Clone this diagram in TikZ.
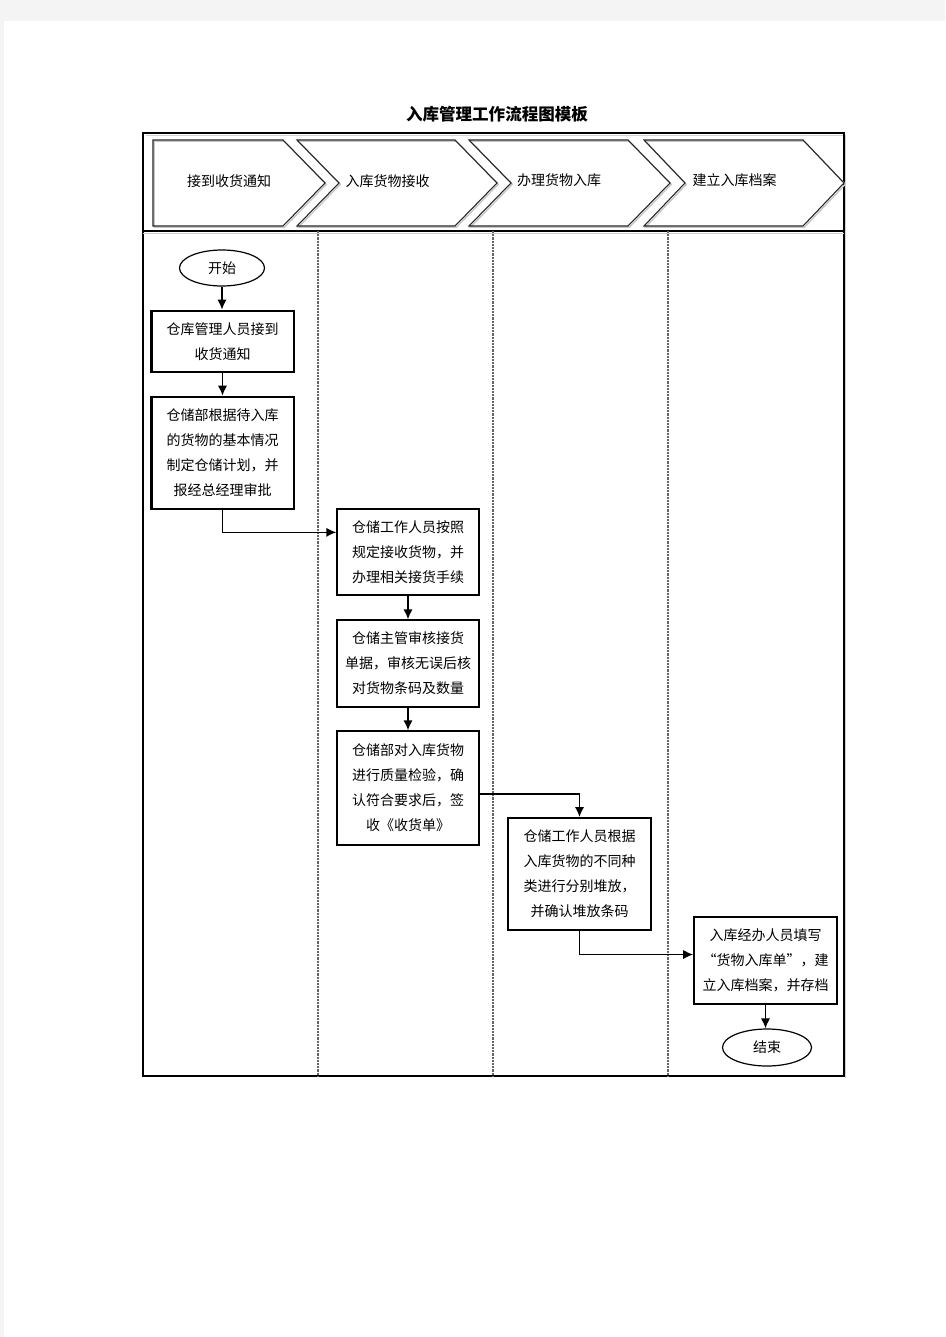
\documentclass[tikz,border=0pt]{standalone}
\usepackage{fontspec}
\newfontfamily\cjk{Noto Sans CJK SC}
\usetikzlibrary{arrows.meta,shapes.geometric,calc}
\definecolor{pagegrey}{HTML}{F4F4F4}
\tikzset{
  txt/.style={font=\cjk\fontsize{10.5pt}{18.75pt}\selectfont, align=center, inner sep=0pt},
  boxthick/.style={draw=black, line width=2pt, fill=white, minimum width=107pt, txt},
  boxthin/.style={draw=black, line width=1pt, fill=white, minimum width=106.5pt, txt},
  boxmid/.style={draw=black, line width=1.5pt, fill=white, minimum width=107pt, txt},
  term/.style={draw=black, line width=0.9pt, ellipse, fill=white, inner sep=0pt, txt},
  arr/.style={line width=1.2pt, -{Latex[length=7.5pt,width=7pt]}},
  chev/.style={draw=black!85, line width=0.8pt, line join=miter},
  chevshadow/.style={draw=gray!45, line width=1pt},
  lane/.style={draw=gray!80!black, line width=0.8pt, dash pattern=on 1.6pt off 0.8pt},
}
\begin{document}
\begin{tikzpicture}[x=0.75pt,y=-0.75pt]
\useasboundingbox (0,0) rectangle (945,1337);
\fill[white] (0,0) rectangle (945,1337);
\fill[pagegrey] (0,0) rectangle (945,21);
\fill[pagegrey] (0,0) rectangle (4,1337);

% title
\node[font=\cjk\bfseries\fontsize{12.4pt}{14pt}\selectfont, inner sep=0pt] (title) at (497,114) {入库管理工作流程图模板};

% frame
\draw[gray!35, line width=0.7pt] (145.5,135) -- (845.5,135) -- (845.5,1077.5);
\draw[black, line width=0.8pt] (143,133) rectangle (844,1076);
\draw[gray!40, line width=0.7pt] (143,233) -- (844,233);
\draw[black, line width=0.8pt] (143,231) -- (844,231);

% lanes
\foreach \xx in {318,493,668} \draw[lane] (\xx,231) -- (\xx,1076);

% chevrons (shadow then outline)
\begin{scope}[shift={(1.3,1.3)}]
\draw[chevshadow] (153,140) -- (283,140) -- (325,183) -- (283,226) -- (153,226) -- cycle;
\draw[chevshadow] (297,140) -- (455,140) -- (497,183) -- (455,226) -- (297,226) -- (339,183) -- cycle;
\draw[chevshadow] (469,140) -- (628,140) -- (670,183) -- (628,226) -- (469,226) -- (511,183) -- cycle;
\draw[chevshadow] (644,140) -- (803,140) -- (844,183) -- (803,226) -- (644,226) -- (685,183) -- cycle;
\end{scope}
\draw[chev] (153,140) -- (283,140) -- (325,183) -- (283,226) -- (153,226) -- cycle;
\draw[chev] (297,140) -- (455,140) -- (497,183) -- (455,226) -- (297,226) -- (339,183) -- cycle;
\draw[chev] (469,140) -- (628,140) -- (670,183) -- (628,226) -- (469,226) -- (511,183) -- cycle;
\draw[chev] (644,140) -- (803,140) -- (844,183) -- (803,226) -- (644,226) -- (685,183) -- cycle;

\node[txt] (h1) at (229,181) {接到收货通知};
\node[txt] (h2) at (387.5,181) {入库货物接收};
\node[txt] (h3) at (559,180) {办理货物入库};
\node[txt] (h4) at (734.5,180) {建立入库档案};

% flow nodes
\node[term, minimum width=63.75pt, minimum height=27pt] (start) at (222,268) {开始};
\node[boxthick, minimum height=45.75pt] (A) at (222.5,341.5) {仓库管理人员接到\\收货通知};
\node[boxthick, minimum height=84pt] (B) at (222.5,453) {仓储部根据待入库\\的货物的基本情况\\制定仓储计划，并\\报经总经理审批};
\node[boxthin, minimum height=64.5pt] (C) at (408,552) {仓储工作人员按照\\规定接收货物，并\\办理相关接货手续};
\node[boxthin, minimum height=65.25pt] (D) at (408,663.5) {仓储主管审核接货\\单据，审核无误后核\\对货物条码及数量};
\node[boxthin, minimum height=85.5pt] (E) at (408,788) {仓储部对入库货物\\进行质量检验，确\\认符合要求后，签\\收《收货单》};
\node[boxmid, minimum height=84pt] (F) at (579.5,874) {仓储工作人员根据\\入库货物的不同种\\类进行分别堆放，\\并确认堆放条码};
\node[boxmid, minimum height=65.25pt] (G) at (765.5,960.5) {入库经办人员填写\\“货物入库单”，建\\立入库档案，并存档};
\node[term, minimum width=66.75pt, minimum height=27.75pt] (end) at (767,1047.5) {结束};

% connectors
\draw[arr] (start.south) -- (start.south |- A.north);
\draw[arr] (A.south) -- (A.south |- B.north);
\draw[arr] (B.south) |- ([yshift=-18pt]C.north west);
\draw[arr] (C.south) -- (C.south |- D.north);
\draw[arr] (D.south) -- (D.south |- E.north);
\draw[arr] ([yshift=-4.5pt]E.east) -| (F.north);
\draw[arr] (F.south) |- ([yshift=4.5pt]G.west);
\draw[arr] (G.south) -- (G.south |- end.north);
\end{tikzpicture}
\end{document}
